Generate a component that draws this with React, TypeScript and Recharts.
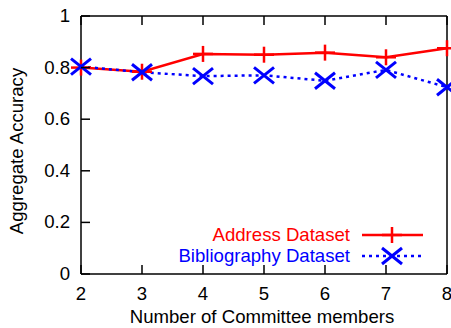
import { LineChart, Line, XAxis, YAxis, Customized } from 'recharts';

const members = [2, 3, 4, 5, 6, 7, 8];
const addressAccuracy = [0.8, 0.784, 0.853, 0.85, 0.858, 0.84, 0.875];
const bibliographyAccuracy = [0.804, 0.782, 0.767, 0.77, 0.749, 0.791, 0.724];
const xTicks = [2, 3, 4, 5, 6, 7, 8];
const yTicks = [0, 0.2, 0.4, 0.6, 0.8, 1];
const seriesNames = ['Address Dataset', 'Bibliography Dataset'];

const RED = '#ff0000';
const BLUE = '#0000ff';
const FONT = '"Liberation Sans", Arial, sans-serif';
const FS = 18.6;

const data = members.map((m, i) => ({
    members: m,
    address: addressAccuracy[i],
    bibliography: bibliographyAccuracy[i],
}));

const Plus = ({ cx, cy }: any) => (
    <g>
        <line x1={cx - 10} x2={cx + 10} y1={cy} y2={cy} stroke={RED} strokeWidth={2.5} />
        <line x1={cx} x2={cx} y1={cy - 8} y2={cy + 8} stroke={RED} strokeWidth={2.5} />
    </g>
);

const Cross = ({ cx, cy }: any) => (
    <g>
        <line x1={cx - 10} x2={cx + 10} y1={cy - 8} y2={cy + 8} stroke={BLUE} strokeWidth={3} />
        <line x1={cx - 10} x2={cx + 10} y1={cy + 8} y2={cy - 8} stroke={BLUE} strokeWidth={3} />
    </g>
);

const BottomTick = ({ x, y, payload }: any) => (
    <g>
        <line x1={x} x2={x} y1={y} y2={y - 9} stroke="#000" strokeWidth={1.5} />
        <text x={x} y={y + 26} textAnchor="middle" fontSize={FS} fontFamily={FONT} fill="#000">
            {payload.value}
        </text>
    </g>
);

const TopTick = ({ x, y }: any) => (
    <line x1={x} x2={x} y1={y} y2={y + 9} stroke="#000" strokeWidth={1.5} />
);

const LeftTick = ({ x, y, payload }: any) => (
    <g>
        <line x1={x} x2={x + 9} y1={y} y2={y} stroke="#000" strokeWidth={1.5} />
        <text x={x - 11} y={y + 6} textAnchor="end" fontSize={FS} fontFamily={FONT} fill="#000">
            {payload.value}
        </text>
    </g>
);

const RightTick = ({ x, y }: any) => (
    <line x1={x} x2={x - 9} y1={y} y2={y} stroke="#000" strokeWidth={1.5} />
);

const LegendBox = () => {
    const rows = [
        { name: seriesNames[0], color: RED, dash: undefined, Mark: Plus, y: 235 },
        { name: seriesNames[1], color: BLUE, dash: '3 4', Mark: Cross, y: 256 },
    ];
    return (
        <g>
            {rows.map((r) => (
                <g key={r.name}>
                    <text x={350} y={r.y + 6} textAnchor="end" fontSize={FS} fontFamily={FONT} fill={r.color}>
                        {r.name}
                    </text>
                    <line x1={362} x2={423} y1={r.y} y2={r.y} stroke={r.color} strokeWidth={2.5} strokeDasharray={r.dash} />
                    <r.Mark cx={392} cy={r.y} />
                </g>
            ))}
        </g>
    );
};

export default function App() {
    return (
        <div style={{ position: 'absolute', left: 0, top: 0, width: 451, height: 328, background: '#fff' }}>
            <LineChart width={451} height={328} data={data} margin={{ top: 0, right: 0, bottom: 0, left: 0 }}>
                <XAxis
                    xAxisId="bottom"
                    dataKey="members"
                    type="number"
                    domain={[2, 8]}
                    ticks={xTicks}
                    height={54}
                    tickSize={0}
                    tickMargin={0}
                    tick={<BottomTick />}
                    axisLine={{ stroke: '#000', strokeWidth: 1.5 }}
                    label={{
                        content: ({ viewBox }: any) => (
                            <text
                                x={viewBox.x + viewBox.width / 2 - 2}
                                y={viewBox.y + 49}
                                textAnchor="middle"
                                fontSize={FS}
                                fontFamily={FONT}
                                fill="#000"
                            >
                                Number of Committee members
                            </text>
                        ),
                    }}
                />
                <XAxis
                    xAxisId="top"
                    orientation="top"
                    dataKey="members"
                    type="number"
                    domain={[2, 8]}
                    ticks={xTicks}
                    height={16}
                    tickSize={0}
                    tickMargin={0}
                    tick={<TopTick />}
                    axisLine={{ stroke: '#000', strokeWidth: 1.5 }}
                />
                <YAxis
                    yAxisId="left"
                    type="number"
                    domain={[0, 1]}
                    ticks={yTicks}
                    width={81}
                    tickSize={0}
                    tickMargin={0}
                    tick={<LeftTick />}
                    axisLine={{ stroke: '#000', strokeWidth: 1.5 }}
                    label={{
                        content: ({ viewBox }: any) => (
                            <text
                                x={23}
                                y={viewBox.y + viewBox.height / 2 + 6}
                                transform={`rotate(-90, 23, ${viewBox.y + viewBox.height / 2 + 6})`}
                                textAnchor="middle"
                                fontSize={FS}
                                fontFamily={FONT}
                                fill="#000"
                            >
                                Aggregate Accuracy
                            </text>
                        ),
                    }}
                />
                <YAxis
                    yAxisId="right"
                    orientation="right"
                    type="number"
                    domain={[0, 1]}
                    ticks={yTicks}
                    width={4}
                    tickSize={0}
                    tickMargin={0}
                    tick={<RightTick />}
                    axisLine={{ stroke: '#000', strokeWidth: 1.5 }}
                />
                <Line
                    xAxisId="bottom"
                    yAxisId="left"
                    dataKey="address"
                    name={seriesNames[0]}
                    stroke={RED}
                    strokeWidth={2.5}
                    dot={<Plus />}
                    activeDot={false}
                    isAnimationActive={false}
                />
                <Line
                    xAxisId="bottom"
                    yAxisId="left"
                    dataKey="bibliography"
                    name={seriesNames[1]}
                    stroke={BLUE}
                    strokeWidth={2.5}
                    strokeDasharray="3 4"
                    dot={<Cross />}
                    activeDot={false}
                    isAnimationActive={false}
                />
                <Customized component={<LegendBox />} />
            </LineChart>
        </div>
    );
}
